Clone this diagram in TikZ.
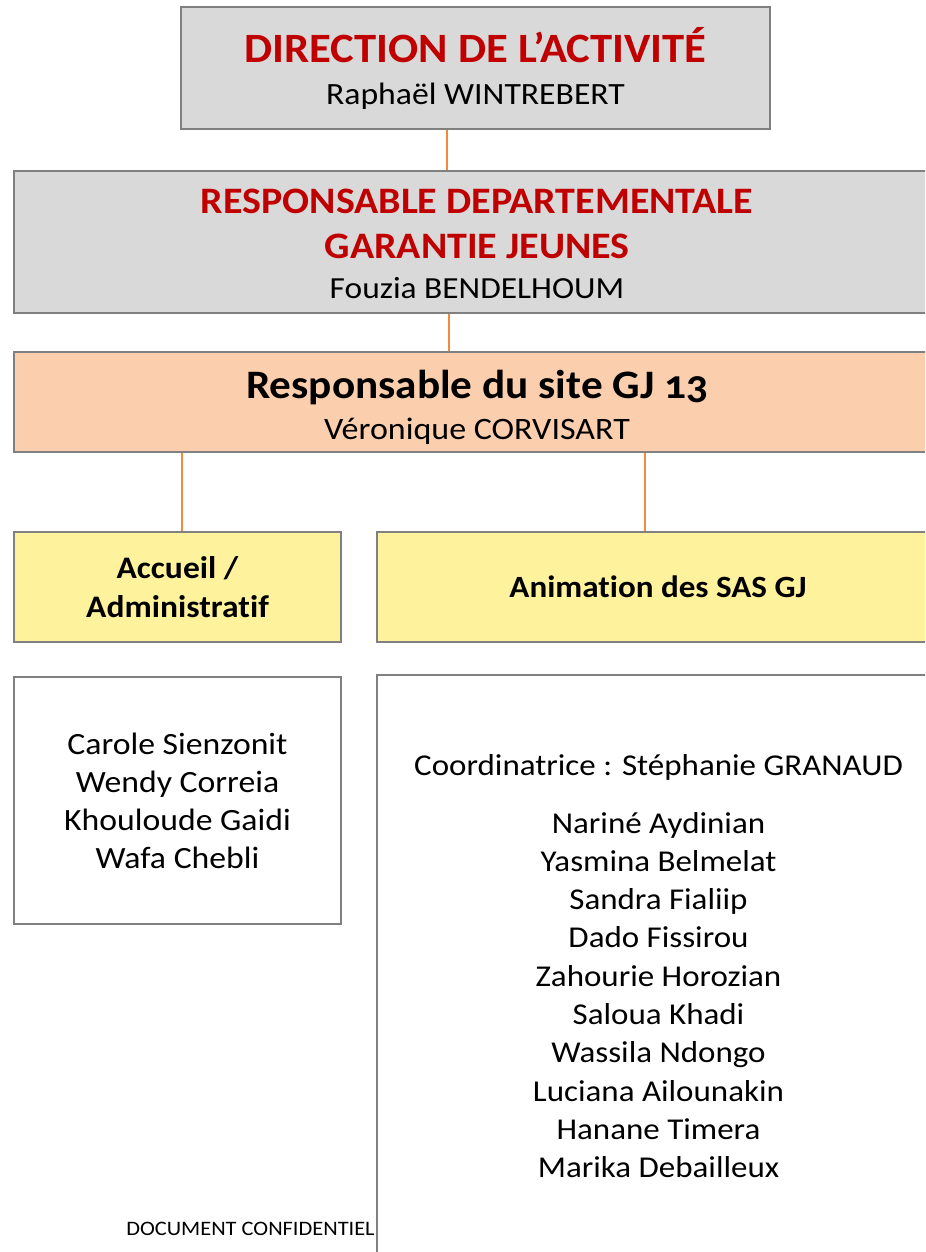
\documentclass[tikz,border=0pt]{standalone}
\usepackage{fontspec}
\setmainfont{Carlito}[Numbers=OldStyle, Ligatures=NoCommon, UprightFeatures={FakeStretch=1.09}, BoldFeatures={FakeStretch=1.07}]
\usetikzlibrary{fit}
\definecolor{boxline}{HTML}{808080}
\definecolor{grayfill}{HTML}{D9D9D9}
\definecolor{peach}{HTML}{FBCEAD}
\definecolor{paleyellow}{HTML}{FFF29C}
\definecolor{darkred}{HTML}{C00000}
\definecolor{linkorange}{HTML}{F08A3C}
\newcommand{\fs}[1]{\fontsize{#1}{#1}\selectfont}
\begin{document}
\begin{tikzpicture}[x=0.75pt,y=-0.75pt,
  box/.style={draw=boxline, line width=1.5pt, inner sep=0pt},
  link/.style={draw=linkorange, line width=0.9pt},
  txt/.style={anchor=base, inner sep=0pt, text=black}]
\useasboundingbox (0,0) rectangle (925,1252);
\clip (0,0) rectangle (925,1252);
% boxes
\node[box, fill=grayfill, fit={(181,7) (770,129)}] (dir) {};
\node[box, fill=grayfill, fit={(14,171) (940,313)}] (resp) {};
\node[box, fill=peach, fit={(14,352) (940,452)}] (site) {};
\node[box, fill=paleyellow, fit={(14,532) (341,642)}] (acc) {};
\node[box, fill=paleyellow, fit={(377,532) (940,642)}] (anim) {};
\node[box, fill=white, fit={(14,677) (341,924)}] (accl) {};
\node[box, fill=white, fit={(377,675) (940,1270)}] (animl) {};
% connectors
\draw[link] (dir.south -| 447,0) -- (resp.north -| 447,0);
\draw[link] (resp.south -| 449,0) -- (site.north -| 449,0);
\draw[link] (site.south -| 182,0) -- (acc.north -| 182,0);
\draw[link] (site.south -| 645,0) -- (anim.north -| 645,0);
% texts
\node[txt, text=darkred, font=\fs{31.3}\bfseries] (t1) at (475.5,63) {DIRECTION DE L’ACTIVITÉ};
\node[txt, font=\fs{23.2}] (n1) at (475.5,105) {Raphaël WINTREBERT};
\node[txt, text=darkred, font=\fs{28}\bfseries] (t2a) at (477,213) {RESPONSABLE DEPARTEMENTALE};
\node[txt, text=darkred, font=\fs{28}\bfseries] (t2b) at (477,258) {GARANTIE JEUNES};
\node[txt, font=\fs{23}] (n2) at (477,298) {Fouzia BENDELHOUM};
\node[txt, font=\fs{30.3}\bfseries] (t3) at (477,398) {Responsable du site GJ 13};
\node[txt, font=\fs{23.4}] (n3) at (477,439) {Véronique CORVISART};
\node[txt, font=\fs{23.5}\bfseries] (t4a) at (177.5,578) {Accueil /};
\node[txt, font=\fs{23.5}\bfseries] (t4b) at (177.5,617) {Administratif};
\node[txt, font=\fs{23.2}\bfseries] (t5) at (658,597) {Animation des SAS GJ};
\foreach \nm [count=\i from 0] in {Carole Sienzonit, Wendy Correia, Khouloude Gaidi, Wafa Chebli}
  \node[txt, font=\fs{23.2}] (l\i) at (177.5,754+38*\i) {\nm};
\node[txt, font=\fs{22.7}] (coord) at (658.5,775) {Coordinatrice : Stéphanie GRANAUD};
\foreach \nm [count=\i from 0] in {Nariné Aydinian, Yasmina Belmelat, Sandra Fialiip, Dado Fissirou, Zahourie Horozian, Saloua Khadi, Wassila Ndongo, Luciana Ailounakin, Hanane Timera, Marika Debailleux}
  \node[txt, font=\fs{22.7}] (r\i) at (658.5,833+38.3*\i) {\nm};
\node[txt, font=\fs{15.4}] (conf) at (250.5,1235) {DOCUMENT CONFIDENTIEL};
\end{tikzpicture}
\end{document}
